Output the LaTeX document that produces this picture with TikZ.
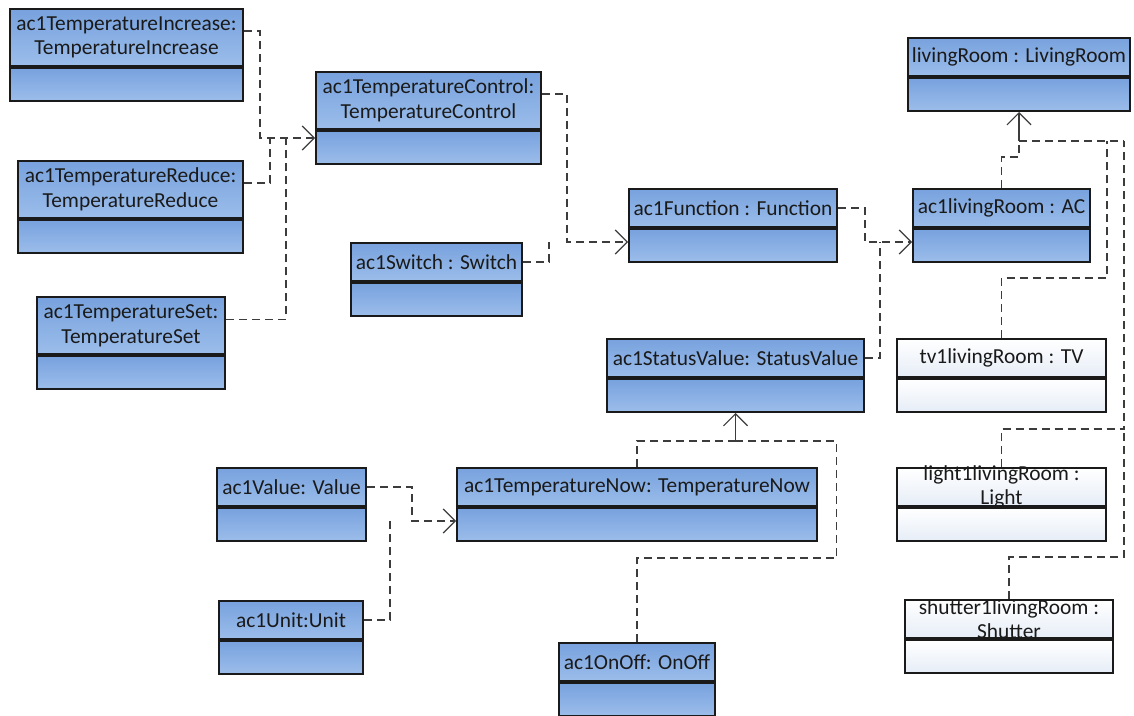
\documentclass[tikz,border=0pt]{standalone}
\usepackage{fontspec}
\setmainfont{Carlito}
\usetikzlibrary{arrows.meta,positioning}
\definecolor{objtop}{HTML}{78A2DE}
\definecolor{objbot}{HTML}{9BBDEA}
\definecolor{devbot}{HTML}{E6EDF7}
\definecolor{ink}{HTML}{1A1A1A}
\definecolor{edgec}{HTML}{3C3C3C}
\tikzset{
  every node/.style={font=\fontsize{10.7}{12.3}\selectfont, text=ink},
  obj/.style={draw=ink, line width=1pt, top color=objtop, bottom color=objbot,
              anchor=north west, align=center, inner sep=0pt, minimum height=19pt},
  obj2/.style={obj, minimum height=28.5pt},
  slot/.style={draw=ink, line width=1pt, top color=objtop, bottom color=objbot,
               inner sep=0pt, minimum height=16.5pt},
  devobj/.style={obj, top color=white, bottom color=devbot},
  devslot/.style={slot, top color=white, bottom color=devbot},
  dep/.style={draw=edgec, line width=0.6pt, dash pattern=on 4pt off 2.5pt},
  link/.style={draw=edgec, line width=0.6pt},
  tip/.style={-{Straight Barb[length=6pt,width=12pt]}},
}
\begin{document}
\begin{tikzpicture}[x=0.5pt, y=-0.5pt]
  \useasboundingbox (0,0) rectangle (1134,716);

  % temperature commands
  \node[obj2, minimum width=116.5pt] (inc) at (9,8) {ac1TemperatureIncrease:\\TemperatureIncrease};
  \node[slot, minimum width=116.5pt, below=0pt of inc] (inc-a) {};
  \node[obj2, minimum width=112.5pt] (red) at (17,160) {ac1TemperatureReduce:\\TemperatureReduce};
  \node[slot, minimum width=112.5pt, below=0pt of red] (red-a) {};
  \node[obj2, minimum width=94pt] (set) at (36,296) {ac1TemperatureSet:\\TemperatureSet};
  \node[slot, minimum width=94pt, below=0pt of set] (set-a) {};
  \node[obj2, minimum width=112.5pt] (ctl) at (315,71) {ac1TemperatureControl:\\TemperatureControl};
  \node[slot, minimum width=112.5pt, below=0pt of ctl] (ctl-a) {};

  \node[obj, minimum width=85.5pt] (sw) at (350,242) {ac1Switch : Switch};
  \node[slot, minimum width=85.5pt, below=0pt of sw] (sw-a) {};
  \node[obj, minimum width=104pt] (fn) at (628,188) {ac1Function : Function};
  \node[slot, minimum width=104pt, below=0pt of fn] (fn-a) {};

  % room and devices
  \node[obj, minimum width=111pt] (lr) at (907,37) {livingRoom : LivingRoom};
  \node[slot, minimum width=111pt, below=0pt of lr] (lr-a) {};
  \node[obj, minimum width=88.5pt] (ac) at (912,188) {ac1livingRoom : AC};
  \node[slot, minimum width=88.5pt, below=0pt of ac] (ac-a) {};
  \node[devobj, minimum width=104.5pt] (tv) at (896,338) {tv1livingRoom : TV};
  \node[devslot, minimum width=104.5pt, below=0pt of tv] (tv-a) {};
  \node[devobj, minimum width=104.5pt,
        label={[align=center]center:light1livingRoom :\\Light}] (light) at (896,467) {};
  \node[devslot, minimum width=104.5pt, below=0pt of light] (light-a) {};
  \node[devobj, minimum width=104pt,
        label={[align=center]center:shutter1livingRoom :\\Shutter}] (shut) at (904,599) {};
  \node[devslot, minimum width=104pt, below=0pt of shut] (shut-a) {};

  % status
  \node[obj, minimum width=128.5pt] (sv) at (606,338) {ac1StatusValue: StatusValue};
  \node[slot, minimum width=128.5pt, below=0pt of sv] (sv-a) {};
  \node[obj, minimum width=180pt] (now) at (456,467) {ac1TemperatureNow: TemperatureNow};
  \node[slot, minimum width=180pt, below=0pt of now] (now-a) {};
  \node[obj, minimum width=78pt] (onoff) at (558,642) {ac1OnOff: OnOff};
  \node[slot, minimum width=78pt, below=0pt of onoff] (onoff-a) {};
  \node[obj, minimum width=74.5pt] (val) at (216,467) {ac1Value: Value};
  \node[slot, minimum width=74.5pt, below=0pt of val] (val-a) {};
  \node[obj, minimum width=72pt] (unit) at (218,600) {ac1Unit:Unit};
  \node[slot, minimum width=72pt, below=0pt of unit] (unit-a) {};

  % into temperature control
  \coordinate (ctlJ) at (260,138);
  \draw[dep, tip] ([yshift=3.25pt]inc.east) -| (ctlJ) -- (ctl-a.west |- ctlJ);
  \draw[dep] ([yshift=3.25pt]red.east) -| ([xshift=5pt]ctlJ);
  \draw[dep] ([yshift=3pt]set.east) -| ([xshift=13pt]ctlJ);

  % into function
  \coordinate (fnJ) at (567,242);
  \draw[dep, tip] ([yshift=3.25pt]ctl.east) -| (fnJ) -- (fn-a.west |- fnJ);
  \draw[dep] (sw.east) -| ([xshift=-9pt]fnJ);

  % into AC
  \coordinate (acJ) at (865,242);
  \draw[dep, tip] (fn.east) -| (acJ) -- (ac-a.west |- acJ);
  \draw[dep] (sv.east) -| ([xshift=7.5pt]acJ);

  % into living room
  \coordinate (lrJ) at ([yshift=-14.5pt]lr-a.south);
  \coordinate (devJ) at ([xshift=52.5pt]lrJ);
  \draw[dep] (ac.north) -- ++(0,-31) -| (lrJ);
  \draw[dep] (lrJ) -- (devJ);
  \draw[dep] (tv.north) -- ++(0,-60) -| ([xshift=44pt]lrJ);
  \draw[dep] (light.north) -- ++(0,-38) -| (devJ);
  \draw[dep] (shut.north) -- ++(0,-42) -| ([yshift=-145.5pt]devJ);
  \draw[link, tip] (lrJ) -- (lr-a.south);

  % into status value
  \coordinate (svJ) at ([yshift=-14pt]sv-a.south);
  \draw[dep] (now.north) |- (svJ);
  \draw[dep] (onoff.north) -- ++(0,-84) -| ([xshift=50.5pt]svJ) -- (svJ);
  \draw[link, tip] (svJ) -- (sv-a.south);

  % into temperature now
  \coordinate (nowJ) at (412,521);
  \draw[dep, tip] (val.east) -| (nowJ) -- (now-a.west |- nowJ);
  \draw[dep] (unit.east) -| ([xshift=-11pt]nowJ);
\end{tikzpicture}
\end{document}
